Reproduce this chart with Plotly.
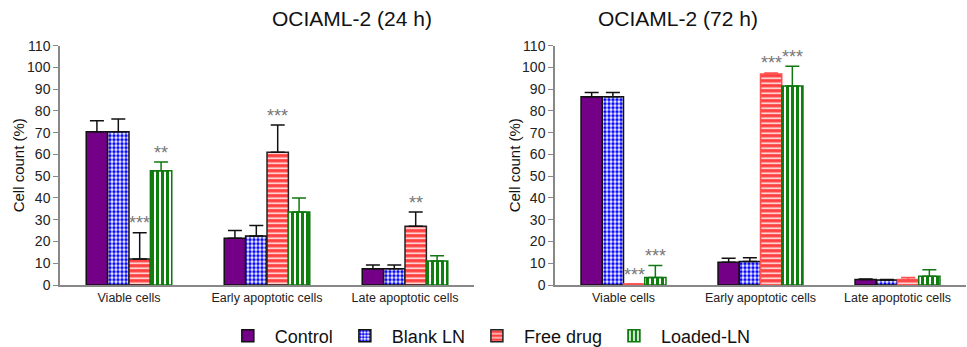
import plotly.graph_objects as go

categories = ["Viable cells", "Early apoptotic cells", "Late apoptotic cells"]
series = ["Control", "Blank LN", "Free drug", "Loaded-LN"]

# 24 h
vals_24 = {
    "Control":   [70.5, 21.5, 7.5],
    "Blank LN":  [70.5, 22.5, 7.5],
    "Free drug": [12.0, 61.0, 27.0],
    "Loaded-LN": [52.5, 33.5, 11.0],
}
err_24 = {
    "Control":   [5.0, 3.5, 1.7],
    "Blank LN":  [5.8, 4.8, 1.7],
    "Free drug": [12.0, 12.5, 6.5],
    "Loaded-LN": [4.0, 6.5, 2.5],
}
# 72 h
vals_72 = {
    "Control":   [86.5, 10.5, 2.5],
    "Blank LN":  [86.5, 10.8, 2.3],
    "Free drug": [0.5, 97.0, 2.5],
    "Loaded-LN": [3.5, 91.5, 4.0],
}
err_72 = {
    "Control":   [2.0, 1.8, 0.3],
    "Blank LN":  [2.0, 1.7, 0.2],
    "Free drug": [0.0, 0.5, 1.0],
    "Loaded-LN": [5.5, 9.0, 3.0],
}
# significance labels: (category index, series index, y centre, text)
stars_24 = [(0, 2, 28.6, "***"), (0, 3, 60.8, "**"), (1, 2, 77.9, "***"), (2, 2, 37.9, "**")]
stars_72 = [(0, 2, 4.6, "***"), (0, 3, 13.4, "***"), (1, 2, 102.0, "***"), (1, 3, 104.8, "***")]

FONT = "Arial, Liberation Sans, sans-serif"

styles = {
    "Control": dict(color="#740088", pattern=dict(shape=""), line="#111111", err="#111111"),
    "Blank LN": dict(color="white", pattern=dict(shape=".", fgcolor="#0A0AFF", bgcolor="white", size=4,
                                                 solidity=0.6, fillmode="replace", fgopacity=1), line="#111111", err="#111111"),
    "Free drug": dict(color="#FF4040", pattern=dict(shape="-", fgcolor="white", bgcolor="#FF4040", size=5,
                                                    solidity=0.28, fillmode="replace", fgopacity=1), line="#222222", err="#111111"),
    "Loaded-LN": dict(color="white", pattern=dict(shape="|", fgcolor="#0E800E", bgcolor="white", size=5,
                                                  solidity=0.6, fillmode="replace", fgopacity=1), line="#117711", err="#117711"),
}
styles72_override = {"Free drug": dict(line="#FF5050", err="#FF5050")}

fig = go.Figure()

for panel, (vals, errs, xa, ya) in enumerate([(vals_24, err_24, "x", "y"), (vals_72, err_72, "x2", "y2")]):
    for s in series:
        st = dict(styles[s])
        if panel == 1 and s in styles72_override:
            st.update(styles72_override[s])
        fig.add_trace(go.Bar(
            x=categories, y=vals[s], name=s, xaxis=xa, yaxis=ya,
            showlegend=(panel == 0), legendgroup=s,
            marker=dict(color=st["color"], pattern=st["pattern"], line=dict(color=st["line"], width=1.5)),
            error_y=dict(type="data", symmetric=False, array=errs[s], arrayminus=[0] * 3,
                         color=st["err"], thickness=1.5, width=7, visible=True),
        ))

bargap = 0.38
bw = (1 - bargap) / 4
def bar_x(ci, si):
    return ci - (1 - bargap) / 2 + bw * (si + 0.5)

annotations = []
for stars, xr, yr in [(stars_24, "x", "y"), (stars_72, "x2", "y2")]:
    for ci, si, y, t in stars:
        annotations.append(dict(x=bar_x(ci, si), y=y, xref=xr, yref=yr, text=t, showarrow=False,
                                font=dict(family=FONT, size=18, color="#777777"), yanchor="middle"))

W, H = 967, 347
ybot = (H - 285) / H
ytop = (H - 45.7) / H
annotations += [
    dict(x=270 / W, y=1 - 18 / H, xref="paper", yref="paper", text="OCIAML-2 (24 h)", showarrow=False,
         font=dict(family=FONT, size=21, color="#111111"), yanchor="middle"),
    dict(x=760 / W, y=1 - 18 / H, xref="paper", yref="paper", text="OCIAML-2 (72 h)", showarrow=False,
         font=dict(family=FONT, size=21, color="#111111"), yanchor="middle"),
    dict(x=18 / W, y=(ybot + ytop) / 2, xref="paper", yref="paper", text="Cell count (%)", showarrow=False,
         textangle=-90, xanchor="center", yanchor="middle", font=dict(family=FONT, size=15, color="#111111")),
    dict(x=514 / W, y=(ybot + ytop) / 2, xref="paper", yref="paper", text="Cell count (%)", showarrow=False,
         textangle=-90, xanchor="center", yanchor="middle", font=dict(family=FONT, size=15, color="#111111")),
]

axis_common = dict(showline=True, linecolor="#888888", linewidth=1.5, showgrid=False, zeroline=False,
                   automargin=False, tickfont=dict(family=FONT, size=12.5, color="#222222"))
yaxis_common = dict(showline=True, linecolor="#888888", linewidth=1.5, showgrid=False, zeroline=False,
                    automargin=False, range=[0, 110], dtick=10, ticks="outside", ticklen=5, tickcolor="#888888",
                    tickfont=dict(family=FONT, size=14, color="#222222"))

fig.update_layout(
    width=W, height=H, margin=dict(l=0, r=0, t=0, b=0, autoexpand=False),
    paper_bgcolor="white", plot_bgcolor="white",
    barmode="group", bargap=bargap, bargroupgap=0,
    xaxis=dict(domain=[60 / W, 474 / W], anchor="y", range=[-0.5, 2.5], **axis_common),
    yaxis=dict(domain=[ybot, ytop], anchor="x", **yaxis_common),
    xaxis2=dict(domain=[555 / W, 966 / W], anchor="y2", range=[-0.5, 2.5], **axis_common),
    yaxis2=dict(domain=[ybot, ytop], anchor="x2", **yaxis_common),
    legend=dict(orientation="h", x=0.505, xanchor="center", y=11 / H, yanchor="middle",
                font=dict(family=FONT, size=18, color="#111111"), itemwidth=44,
                bgcolor="rgba(0,0,0,0)"),
    annotations=annotations,
    font=dict(family=FONT),
)

fig.write_html("out.html", config={"displayModeBar": False},
               post_script="document.body.style.margin='0';document.body.style.overflow='hidden';")
